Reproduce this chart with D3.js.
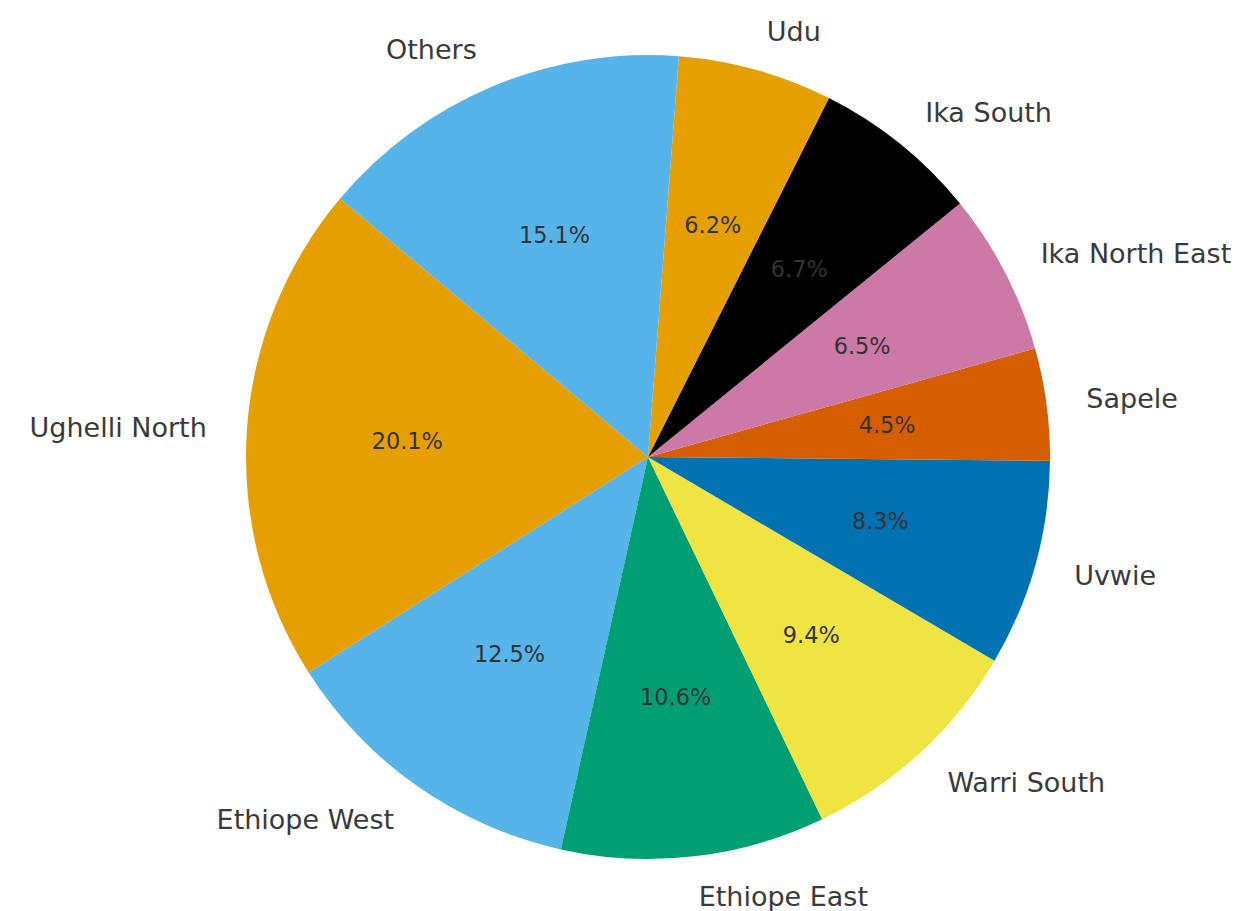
<!DOCTYPE html>
<html>
<head>
<meta charset="utf-8">
<script src="https://cdn.jsdelivr.net/npm/d3@7"></script>
<style>
  html, body { margin: 0; padding: 0; background: #ffffff; }
  svg { display: block; }
</style>
</head>
<body>
<svg id="chart" width="1237" height="911"></svg>
<script>
// Share of cases by local government area (percent)
const districts = ["Ughelli North", "Ethiope West", "Ethiope East", "Warri South", "Uvwie",
                   "Sapele", "Ika North East", "Ika South", "Udu", "Others"];
const shares = [20.1, 12.5, 10.6, 9.4, 8.3, 4.5, 6.5, 6.7, 6.2, 15.1];
const sliceColors = ["#E69F00", "#56B4E9", "#009E73", "#F0E442", "#0072B2",
                     "#D55E00", "#CC79A7", "#000000", "#E69F00", "#56B4E9"];

const width = 1237, height = 911;
const cx = 648, cy = 457, radius = 402;
const startDeg = 140; // first slice begins here, measured counter-clockwise from 3 o'clock

const svg = d3.select("#chart");
const g = svg.append("g").attr("transform", `translate(${cx},${cy})`);

const data = districts.map((name, i) => ({ name, value: shares[i], color: sliceColors[i] }));

// d3 angles run clockwise from 12 o'clock; negative span gives counter-clockwise slices
const startRad = (90 - startDeg) * Math.PI / 180;
const pie = d3.pie()
  .value(d => d.value)
  .sort(null)
  .startAngle(startRad)
  .endAngle(startRad - 2 * Math.PI);

const arcs = pie(data);
const arc = d3.arc().innerRadius(0).outerRadius(radius);

g.selectAll("path.slice")
  .data(arcs)
  .join("path")
  .attr("class", "slice")
  .attr("d", arc)
  .attr("fill", d => d.data.color);

const mid = d => (d.startAngle + d.endAngle) / 2;
const pos = (d, k) => [Math.sin(mid(d)) * radius * k, -Math.cos(mid(d)) * radius * k];

// percentage labels inside the slices
g.selectAll("text.pct")
  .data(arcs)
  .join("text")
  .attr("class", "pct")
  .attr("x", d => pos(d, 0.6)[0])
  .attr("y", d => pos(d, 0.6)[1])
  .attr("text-anchor", "middle")
  .attr("dominant-baseline", "central")
  .attr("font-family", "DejaVu Sans, sans-serif")
  .attr("font-size", 22.4)
  .attr("fill", "#333333")
  .text(d => d3.format(".1f")(d.data.value) + "%");

// category labels outside the pie
g.selectAll("text.name")
  .data(arcs)
  .join("text")
  .attr("class", "name")
  .attr("x", d => pos(d, 1.1)[0])
  .attr("y", d => pos(d, 1.1)[1])
  .attr("text-anchor", d => pos(d, 1.1)[0] >= 0 ? "start" : "end")
  .attr("dominant-baseline", "central")
  .attr("font-family", "DejaVu Sans, sans-serif")
  .attr("font-size", 27)
  .attr("fill", "#3a3a3a")
  .text(d => d.data.name);
</script>
</body>
</html>
